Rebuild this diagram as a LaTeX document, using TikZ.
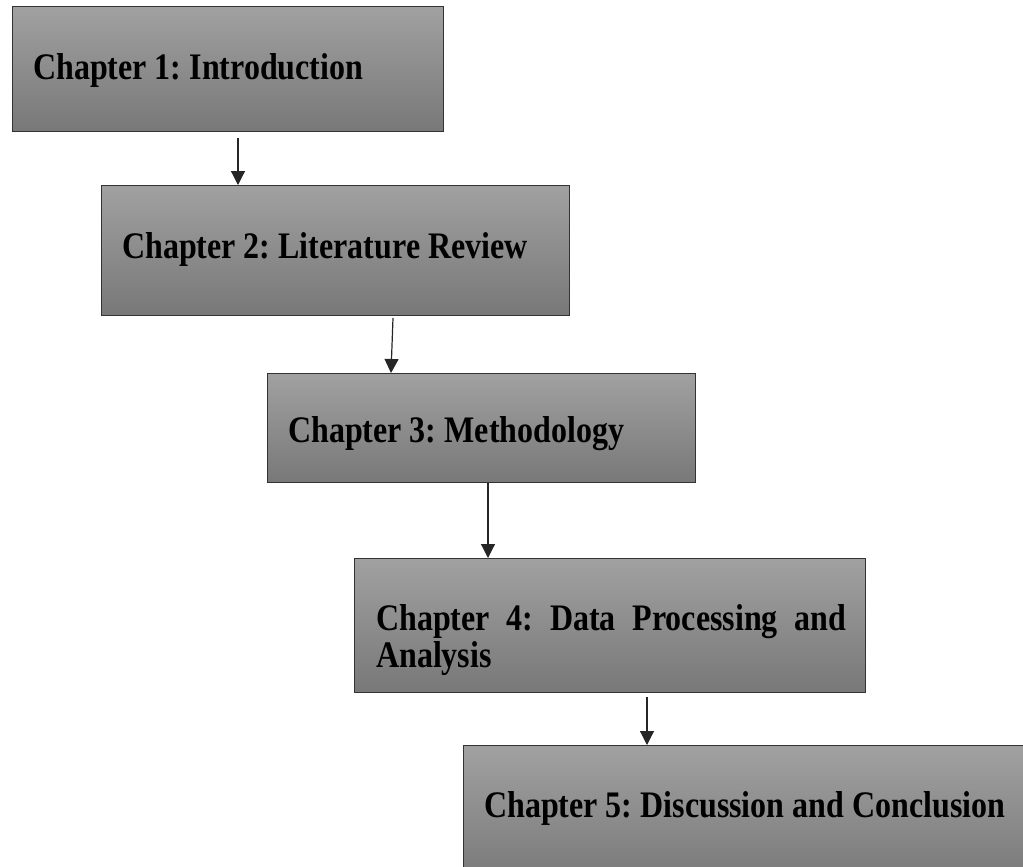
\documentclass[tikz,border=0pt]{standalone}
\usepackage{fontspec}
\setmainfont{Liberation Serif}
\usetikzlibrary{arrows.meta}
\tikzset{
  chapbox/.style={draw=black!80, line width=1pt, top color=black!37, bottom color=black!53,
    rectangle, inner sep=0pt, anchor=north west},
  chaptext/.style={inner sep=0pt, anchor=base west, font=\fontsize{32}{37}\selectfont\bfseries\frenchspacing},
  arr/.style={line width=1.2pt, black!85, -{Triangle[length=14pt,width=14pt]}}
}
\newcommand{\tallish}[1]{\scalebox{1}[1.17]{#1}}
\begin{document}
\begin{tikzpicture}[x=1pt,y=-1pt]
\useasboundingbox (0,0) rectangle (1023,867);
% boxes
\node[chapbox, minimum width=431pt, minimum height=125pt] (b1) at (12,6) {};
\node[chapbox, minimum width=468pt, minimum height=130pt] (b2) at (101,185) {};
\node[chapbox, minimum width=428pt, minimum height=109pt] (b3) at (267,373) {};
\node[chapbox, minimum width=511pt, minimum height=134pt] (b4) at (354,558) {};
\node[chapbox, minimum width=580pt, minimum height=140pt] (b5) at (463,745) {};
% texts
\node[chaptext] (t1) at (33,80) {\tallish{Chapter 1: Introduction}};
\node[chaptext] (t2) at (122,258) {\tallish{Chapter 2: Literature Review}};
\node[chaptext] (t3) at (288,442) {\tallish{Chapter 3: Methodology}};
\node[chaptext] (t4) at (376,630) {\tallish{\parbox[t]{470pt}{\fontsize{32}{31.8}\selectfont\bfseries\frenchspacing Chapter 4: Data Processing and Analysis}}};
\node[chaptext] (t5) at (484,817) {\tallish{Chapter 5: Discussion and Conclusion}};
% arrows
\coordinate (s1) at (238,138);
\coordinate (s2) at (393,318);
\coordinate (e2) at (391,373);
\coordinate (s3) at (488,483);
\coordinate (s4) at (647,697);
\draw[arr] (s1) -- (s1 |- b2.north);
\draw[arr] (s2) -- (e2 |- b3.north);
\draw[arr] (s3) -- (s3 |- b4.north);
\draw[arr] (s4) -- (s4 |- b5.north);
\end{tikzpicture}
\end{document}
